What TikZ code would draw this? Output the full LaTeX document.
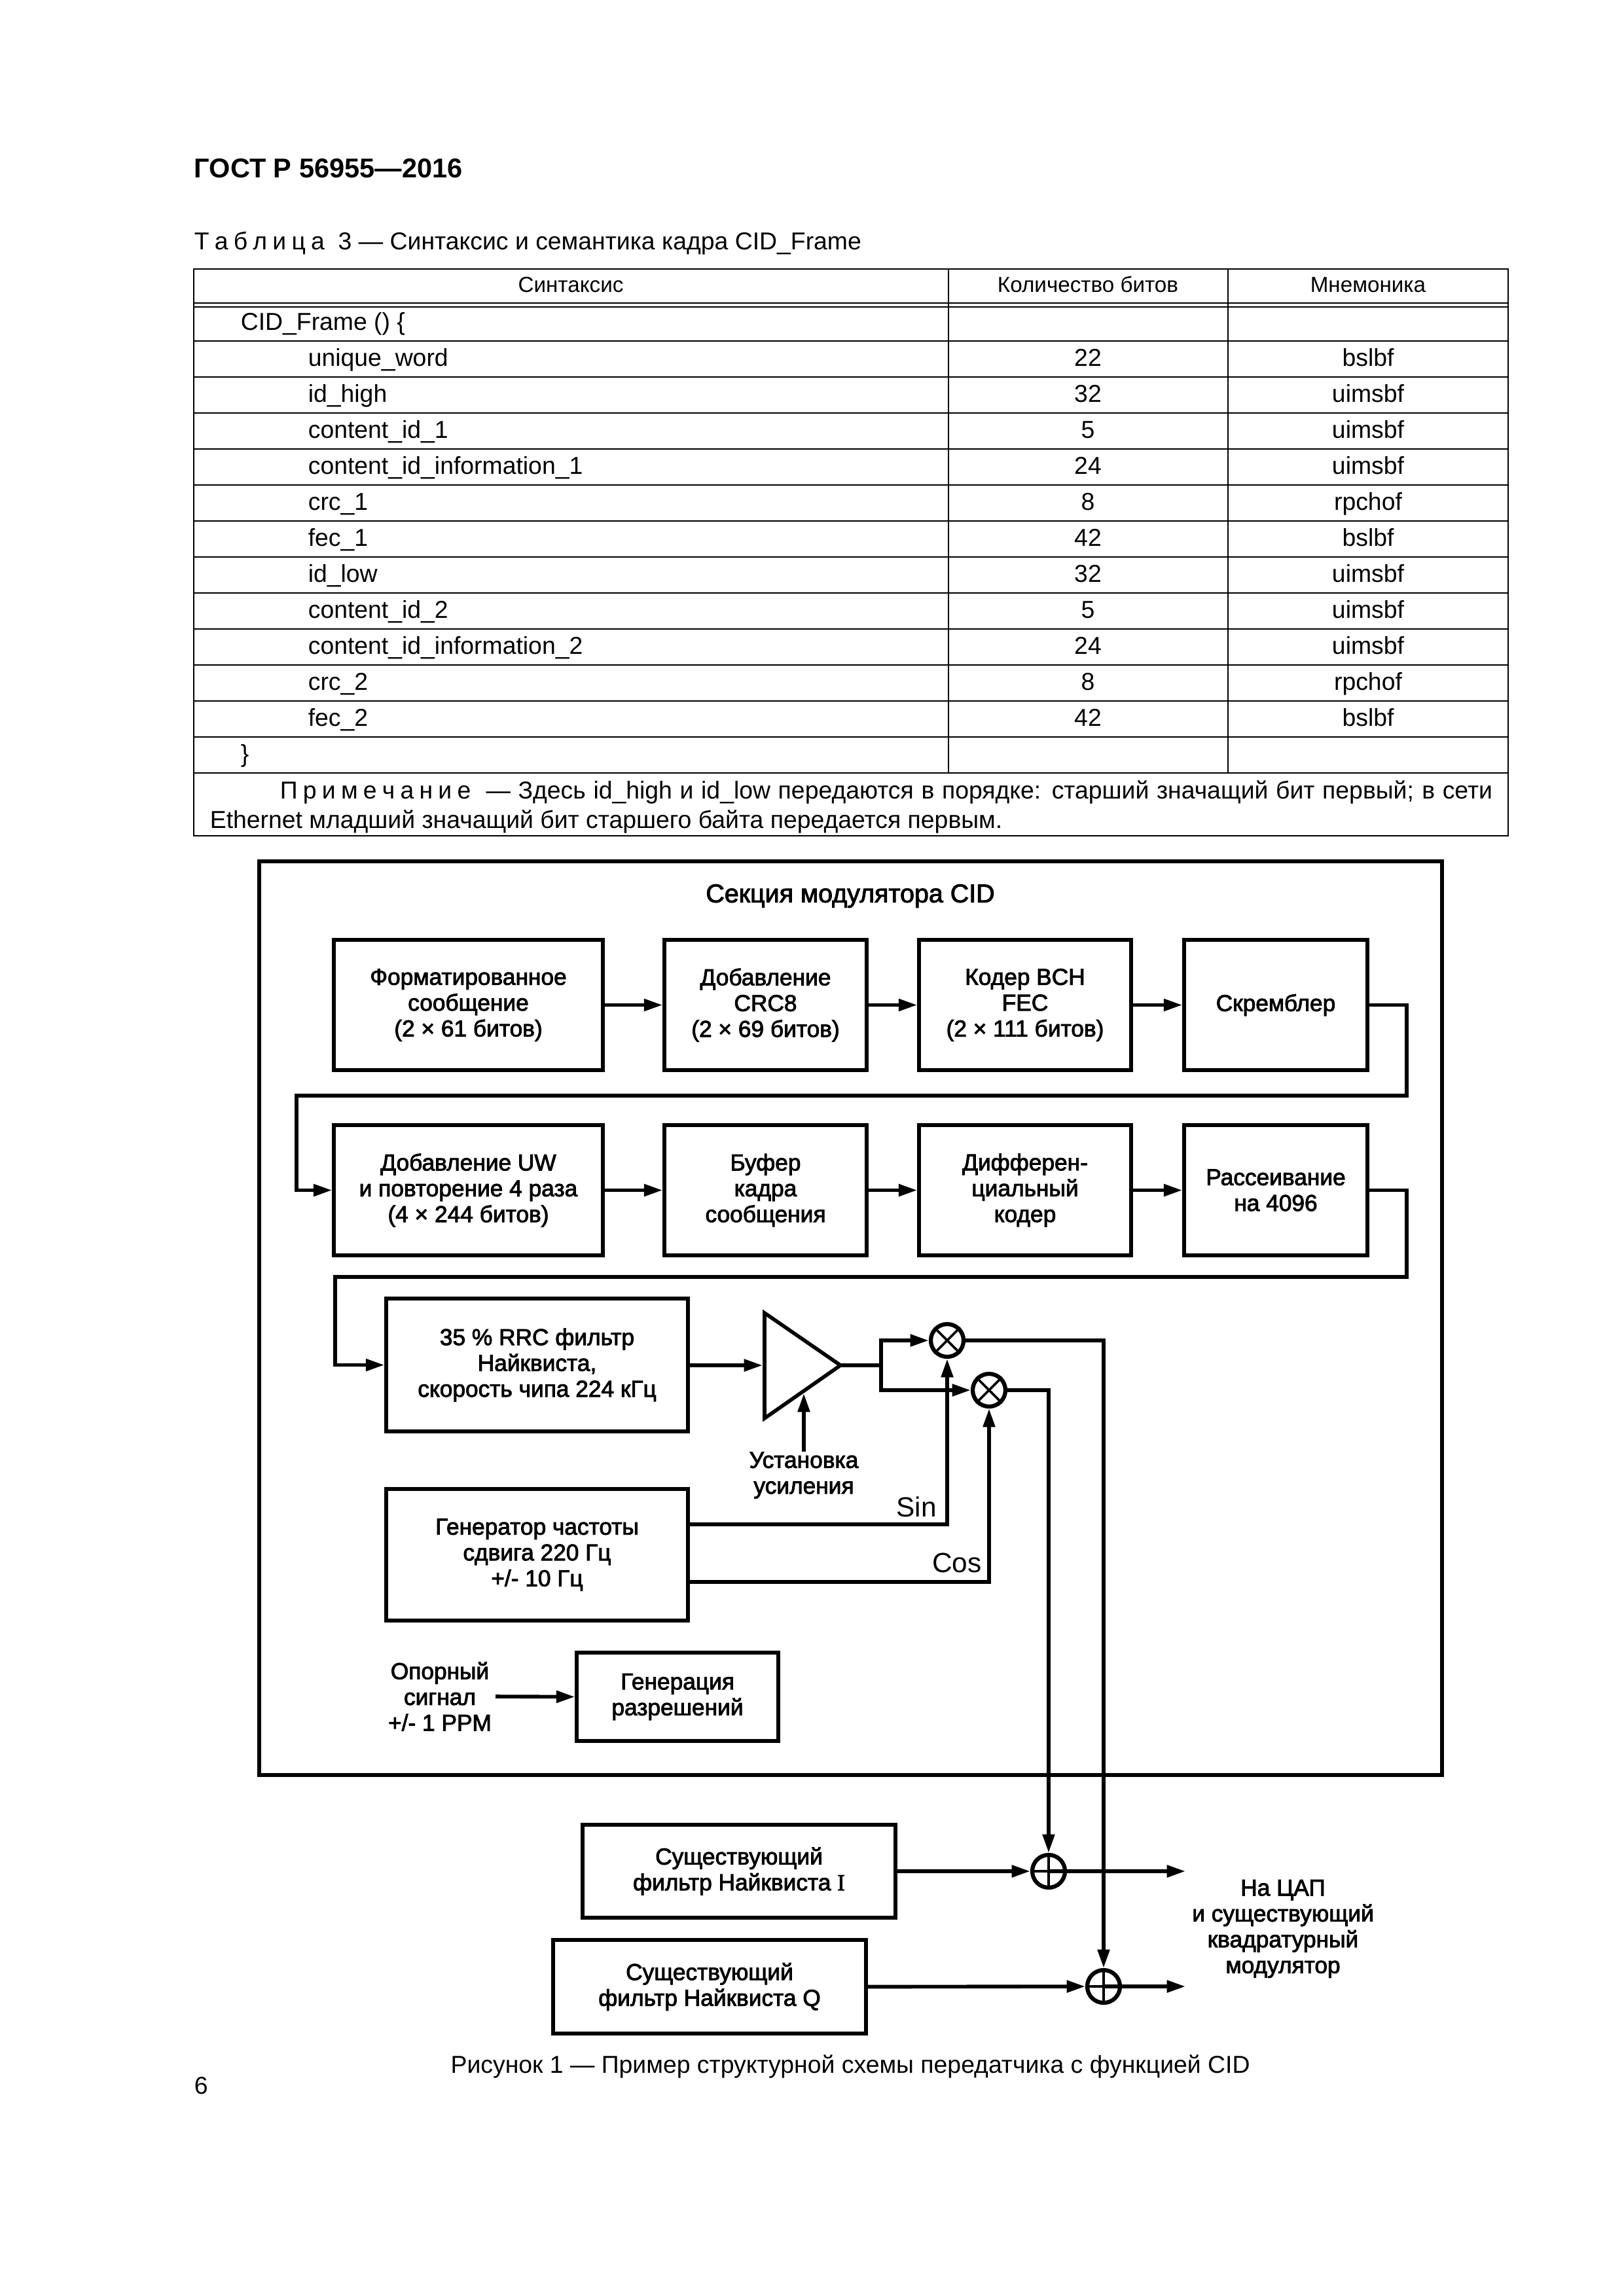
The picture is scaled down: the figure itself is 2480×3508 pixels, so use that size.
\documentclass[tikz,border=0pt]{standalone}
\usepackage{fontspec}
\setmainfont{Liberation Sans}
\newfontfamily\blockfont[FakeBold=2.5]{Liberation Sans}
\newfontfamily\serifletter[FakeBold=2.5]{Liberation Serif}
\usetikzlibrary{arrows.meta}
\usetikzlibrary{calc}
\tikzset{
	wire/.style={line width=1.35bp},
	flow/.style={wire, -{Triangle[length=6.8bp,width=4.3bp]}},
	blockbox/.style={draw, line width=1.35bp, align=center, inner sep=0pt, font=\blockfont\fontsize{8.5}{9.5}\selectfont},
	blocktext/.style={align=center, inner sep=0pt, font=\blockfont\fontsize{8.5}{9.5}\selectfont},
	wirelabel/.style={inner sep=0pt, font=\fontsize{10.2}{11}\selectfont},
	mixer/.style={circle, draw, fill=white, line width=1.5bp, minimum size=12bp, inner sep=0pt},
	rule/.style={line width=0.6bp},
	celltext/.style={anchor=base west, inner sep=0pt, font=\fontsize{9}{10.8}\selectfont},
	cellmid/.style={anchor=base, inner sep=0pt, font=\fontsize{9}{10.8}\selectfont},
	headmid/.style={anchor=base, inner sep=0pt, font=\fontsize{8}{10}\selectfont}
}
\newcommand{\block}[6] % name, x1, y1, x2, y2, text
{
	\node[blockbox, minimum width={(#4-#2)*0.24bp}, minimum height={(#5-#3)*0.24bp}] (#1) at ({(#2+#4)/2},{(#3+#5)/2}) {#6};
}
\newcommand{\tablerow}[5] % name, y of lower rule, text, bits, mnemonic
{
	\draw[rule] (296,#2) -- (2304,#2);
	\node[celltext] (#1text) at (470,#2-17) {#3};
	\node[cellmid] (#1bits) at (1662,#2-17) {#4};
	\node[cellmid] (#1mnem) at (2090,#2-17) {#5};
}
\newcommand{\mixcross}[1] % mixer name
{
	\draw[line width=0.9bp] (#1.north west) -- (#1.south east);
	\draw[line width=0.9bp] (#1.north east) -- (#1.south west);
}
\newcommand{\sumcross}[1] % summer name
{
	\draw[line width=0.9bp] (#1.north) -- (#1.south);
	\draw[line width=0.9bp] (#1.west) -- (#1.east);
}
\begin{document}
\begin{tikzpicture}[x=0.24bp,y=-0.24bp]
	\useasboundingbox (0,0) rectangle (2480,3508);
	
	% page head
	\node[anchor=base west, inner sep=0pt, font=\bfseries\fontsize{10}{12}\selectfont] (pagehead) at (296,271) {ГОСТ Р 56955—2016};
	\node[celltext] (tablecap) at (296,381) {{\spaceskip=0.22em Т а б л и ц а}\ \ 3 — Синтаксис и семантика кадра CID\_Frame};
	
	% table
	\draw[rule] (296,411) rectangle (2304,1277);
	\draw[rule] (1449,411) -- (1449,1181);
	\draw[rule] (1876,411) -- (1876,1181);
	\draw[rule] (296,463) -- (2304,463);
	\draw[rule] (296,469) -- (2304,469);
	\node[headmid] (headsyntax) at (872,446) {Синтаксис};
	\node[headmid] (headbits) at (1662,446) {Количество битов};
	\node[headmid] (headmnem) at (2090,446) {Мнемоника};
	\draw[rule] (296,521) -- (2304,521);
	\node[celltext] (frametext) at (367,504) {CID\_Frame () \{};
	\tablerow{uword}{576}{unique\_word}{22}{bslbf}
	\tablerow{idhigh}{631}{id\_high}{32}{uimsbf}
	\tablerow{cidone}{686}{content\_id\_1}{5}{uimsbf}
	\tablerow{infoone}{741}{content\_id\_information\_1}{24}{uimsbf}
	\tablerow{crcone}{796}{crc\_1}{8}{rpchof}
	\tablerow{fecone}{851}{fec\_1}{42}{bslbf}
	\tablerow{idlow}{906}{id\_low}{32}{uimsbf}
	\tablerow{cidtwo}{961}{content\_id\_2}{5}{uimsbf}
	\tablerow{infotwo}{1016}{content\_id\_information\_2}{24}{uimsbf}
	\tablerow{crctwo}{1071}{crc\_2}{8}{rpchof}
	\tablerow{fectwo}{1126}{fec\_2}{42}{bslbf}
	\draw[rule] (296,1181) -- (2304,1181);
	\node[celltext] (closebrace) at (367,1164) {\}};
	\node[celltext] (noteone) at (427,1220) {\makebox[444.5bp][s]{{\spaceskip=0.22em П р и м е ч а н и е}\ \ — Здесь id\_high и id\_low передаются в порядке: старший значащий бит первый; в сети}};
	\node[celltext] (notetwo) at (320,1265) {Ethernet младший значащий бит старшего байта передается первым.};
	
	% modulator section
	\draw[wire] (396,1316) rectangle (2203,2712);
	\node[inner sep=0pt, font=\blockfont\fontsize{9.5}{12}\selectfont] (sectitle) at (1299,1369) {Секция модулятора CID};
	
	\block{fmt}{510}{1436}{921}{1635}{Форматированное\\сообщение\\(2 × 61 битов)}
	\block{crc}{1015}{1436}{1324}{1635}{Добавление\\CRC8\\(2 × 69 битов)}
	\block{bch}{1404}{1436}{1728}{1635}{Кодер BCH\\FEC\\(2 × 111 битов)}
	\block{scr}{1809}{1436}{2089}{1635}{Скремблер}
	\block{uw}{510}{1719}{921}{1918}{Добавление UW\\и повторение 4 раза\\(4 × 244 битов)}
	\block{buf}{1015}{1719}{1324}{1918}{Буфер\\кадра\\сообщения}
	\block{dif}{1404}{1719}{1728}{1918}{Дифферен-\\циальный\\кодер}
	\block{dsp}{1809}{1719}{2089}{1918}{Рассеивание\\на 4096}
	\block{rrc}{590}{1984}{1051}{2187}{35 \% RRC фильтр\\Найквиста,\\скорость чипа 224 кГц}
	\block{gen}{590}{2275}{1051}{2476}{Генератор частоты\\сдвига 220 Гц\\+/- 10 Гц}
	\block{perm}{881}{2525}{1189}{2660}{Генерация\\разрешений}
	\block{firi}{890}{2788}{1368}{2930}{Существующий\\фильтр Найквиста {\serifletter I}}
	\block{firq}{845}{2964}{1323}{3107}{Существующий\\фильтр Найквиста Q}
	
	\draw[flow] (fmt) -- (crc);
	\draw[flow] (crc) -- (bch);
	\draw[flow] (bch) -- (scr);
	\coordinate (turna) at (2149,1674);
	\coordinate (turnb) at (453,1674);
	\draw[flow] (scr.east) -| (turna) -- (turnb) |- (uw.west);
	\draw[flow] (uw) -- (buf);
	\draw[flow] (buf) -- (dif);
	\draw[flow] (dif) -- (dsp);
	\coordinate (turnc) at (2149,1951);
	\coordinate (turnd) at (512,1951);
	\draw[flow] (dsp.east) -| (turnc) -- (turnd) |- (rrc.west);
	
	% amplifier
	\coordinate (ampa) at (1168,2006);
	\coordinate (ampb) at (1168,2167);
	\coordinate (amptip) at (1284,2086);
	\coordinate (ampin) at (1165,2086);
	\coordinate (split) at (1346,2086);
	\draw[wire, line join=miter] (ampa) -- (amptip) -- (ampb) -- cycle;
	\draw[flow] (rrc.east |- ampin) -- (ampin);
	\draw[wire] (amptip) -- (split);
	\node[blocktext] (gain) at (1228,2254) {Установка\\усиления};
	\coordinate (gaintip) at (1228,2129);
	\draw[flow] (gain.north) -- (gaintip);
	
	% mixers
	\node[mixer] (mixa) at (1447,2048) {};
	\node[mixer] (mixb) at (1511,2124) {};
	\mixcross{mixa}
	\mixcross{mixb}
	\draw[flow] (split) |- (mixa.west);
	\draw[flow] (split) |- (mixb.west);
	\coordinate (gensin) at (1051,2329);
	\coordinate (gencos) at (1051,2417);
	\draw[flow] (gensin) -| (mixa.south);
	\draw[flow] (gencos) -| (mixb.south);
	\node[wirelabel] (sinlabel) at (1400,2302) {Sin};
	\node[wirelabel] (coslabel) at (1462,2388) {Cos};
	
	\node[blocktext] (refsig) at (672,2592) {Опорный\\сигнал\\+/- 1 PPM};
	\coordinate (refout) at (757,2592);
	\draw[flow] (refout) -- (perm.west);
	
	% adders
	\node[mixer] (suma) at (1602,2859) {};
	\node[mixer] (sumb) at (1686,3035) {};
	\sumcross{suma}
	\sumcross{sumb}
	\draw[flow] (mixb.east) -| (suma.north);
	\draw[flow] (mixa.east) -| (sumb.north);
	\draw[flow] (firi.east) -- (suma.west);
	\draw[flow] (firq.east) -- (sumb.west);
	\coordinate (outa) at (1811,2859);
	\coordinate (outb) at (1811,3035);
	\draw[flow] (suma.center) -- (outa);
	\draw[flow] (sumb.center) -- (outb);
	\node[blocktext] (dacout) at (1960,2947) {На ЦАП\\и существующий\\квадратурный\\модулятор};
	
	\node[inner sep=0pt, font=\fontsize{9}{10.8}\selectfont] (figcap) at (1299,3157) {Рисунок 1 — Пример структурной схемы передатчика с функцией CID};
	\node[celltext] (pagenum) at (296,3199) {6};
\end{tikzpicture}
\end{document}
